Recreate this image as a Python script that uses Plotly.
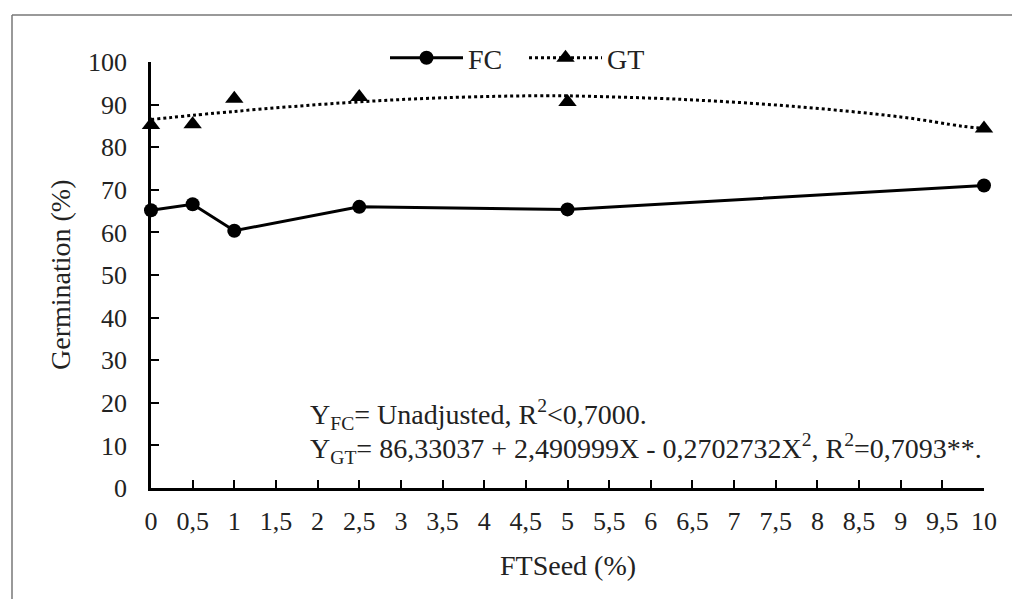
import plotly.graph_objects as go

# ---- data ----
ftseed = [0, 0.5, 1, 2.5, 5, 10]
fc_values = [65.2, 66.6, 60.4, 66.0, 65.4, 71.0]
gt_values = [85.2, 85.4, 91.4, 91.8, 90.6, 84.4]

# dotted fitted curve for GT
gt_fit_x = [0, 1, 2.3, 3.5, 4.75, 5.15, 6.4, 7.7, 9, 9.75, 10]
gt_fit_y = [86.5, 88.4, 90.4, 91.6, 92.1, 92.0, 91.2, 89.6, 87.1, 84.9, 84.4]

x_tickvals = [i * 0.5 for i in range(21)]
x_ticktext = ["0", "0,5", "1", "1,5", "2", "2,5", "3", "3,5", "4", "4,5", "5",
              "5,5", "6", "6,5", "7", "7,5", "8", "8,5", "9", "9,5", "10"]
y_tickvals = [0, 10, 20, 30, 40, 50, 60, 70, 80, 90, 100]

FONT = "Liberation Serif"
TICK_FS = 26
TITLE_FS = 28
ANN_FS = 28
TXT = "#222"

fig = go.Figure()

# GT fitted dotted curve
fig.add_trace(go.Scatter(
    x=gt_fit_x, y=gt_fit_y, mode="lines",
    line=dict(color="black", width=3, dash="dot", shape="spline"),
    showlegend=False, hoverinfo="skip", cliponaxis=False))

# GT observed points
fig.add_trace(go.Scatter(
    x=ftseed, y=gt_values, mode="markers",
    marker=dict(symbol="triangle-up", size=16, color="black"),
    showlegend=False, cliponaxis=False))

# FC series
fig.add_trace(go.Scatter(
    x=ftseed, y=fc_values, mode="lines+markers", name="FC",
    line=dict(color="black", width=3),
    marker=dict(symbol="circle", size=14, color="black"),
    cliponaxis=False))

# legend entry for GT (dotted line + triangle)
fig.add_trace(go.Scatter(
    x=[None], y=[None], mode="lines+markers", name="GT",
    line=dict(color="black", width=3, dash="dot"),
    marker=dict(symbol="triangle-up", size=16, color="black")))

axis_common = dict(
    showgrid=False, zeroline=False, showline=True, linecolor="black", linewidth=2.5,
    ticks="inside", ticklen=8, tickwidth=2, tickcolor="black",
    tickfont=dict(family=FONT, size=TICK_FS, color=TXT),
)

fig.update_xaxes(range=[0, 10], tickvals=x_tickvals, ticktext=x_ticktext,
                 ticklabelstandoff=8, **axis_common)
fig.update_yaxes(range=[0, 100], tickvals=y_tickvals,
                 ticklabelstandoff=16, **axis_common)

# page body has an 8px margin: screen px -> figure px = screen - 8
PX0, PX1 = 151, 984   # screen x of x=0 and x=10
PY0, PY1 = 488, 62    # screen y of y=0 and y=100
PW = PX1 - PX0
PH = PY0 - PY1


def px_x(p):
    return (p - PX0) / PW


def px_y(p):
    return (PY0 - p) / PH


annotations = [
    dict(text="Germination (%)", x=px_x(60), y=0.5, xref="paper", yref="paper",
         textangle=-90, showarrow=False, xanchor="center", yanchor="middle",
         font=dict(family=FONT, size=TITLE_FS, color=TXT)),
    dict(text="FTSeed (%)", x=0.5, y=px_y(565), xref="paper", yref="paper",
         showarrow=False, xanchor="center", yanchor="middle",
         font=dict(family=FONT, size=TITLE_FS, color=TXT)),
    dict(text="Y<sub>FC</sub>= Unadjusted, R<sup>2</sup>&lt;0,7000.",
         x=px_x(308), y=px_y(414), xref="paper", yref="paper",
         showarrow=False, xanchor="left", yanchor="middle", align="left",
         font=dict(family=FONT, size=ANN_FS, color=TXT)),
    dict(text="Y<sub>GT</sub>= 86,33037 + 2,490999X - 0,2702732X<sup>2</sup>, R<sup>2</sup>=0,7093**.",
         x=px_x(308), y=px_y(448), xref="paper", yref="paper",
         showarrow=False, xanchor="left", yanchor="middle", align="left",
         font=dict(family=FONT, size=ANN_FS, color=TXT)),
]

shapes = [
    dict(type="line", xref="paper", yref="paper", x0=px_x(12), x1=px_x(1040),
         y0=px_y(15), y1=px_y(15), line=dict(color="#777", width=1.5)),
    dict(type="line", xref="paper", yref="paper", x0=px_x(12), x1=px_x(12),
         y0=px_y(15), y1=px_y(620), line=dict(color="#777", width=1.5)),
]

W, H = 1012, 591
fig.update_layout(
    width=W, height=H,
    margin=dict(l=PX0 - 8, r=W - (PX1 - 8), t=PY1 - 8, b=H - (PY0 - 8)),
    paper_bgcolor="white", plot_bgcolor="white",
    showlegend=True,
    legend=dict(orientation="h", x=px_x(385), y=px_y(58), xanchor="left", yanchor="middle",
                font=dict(family=FONT, size=TITLE_FS, color=TXT), bgcolor="rgba(0,0,0,0)",
                itemwidth=73, entrywidth=51, entrywidthmode="pixels", tracegroupgap=0),
    annotations=annotations,
    shapes=shapes,
)

fig.write_html("out.html")
